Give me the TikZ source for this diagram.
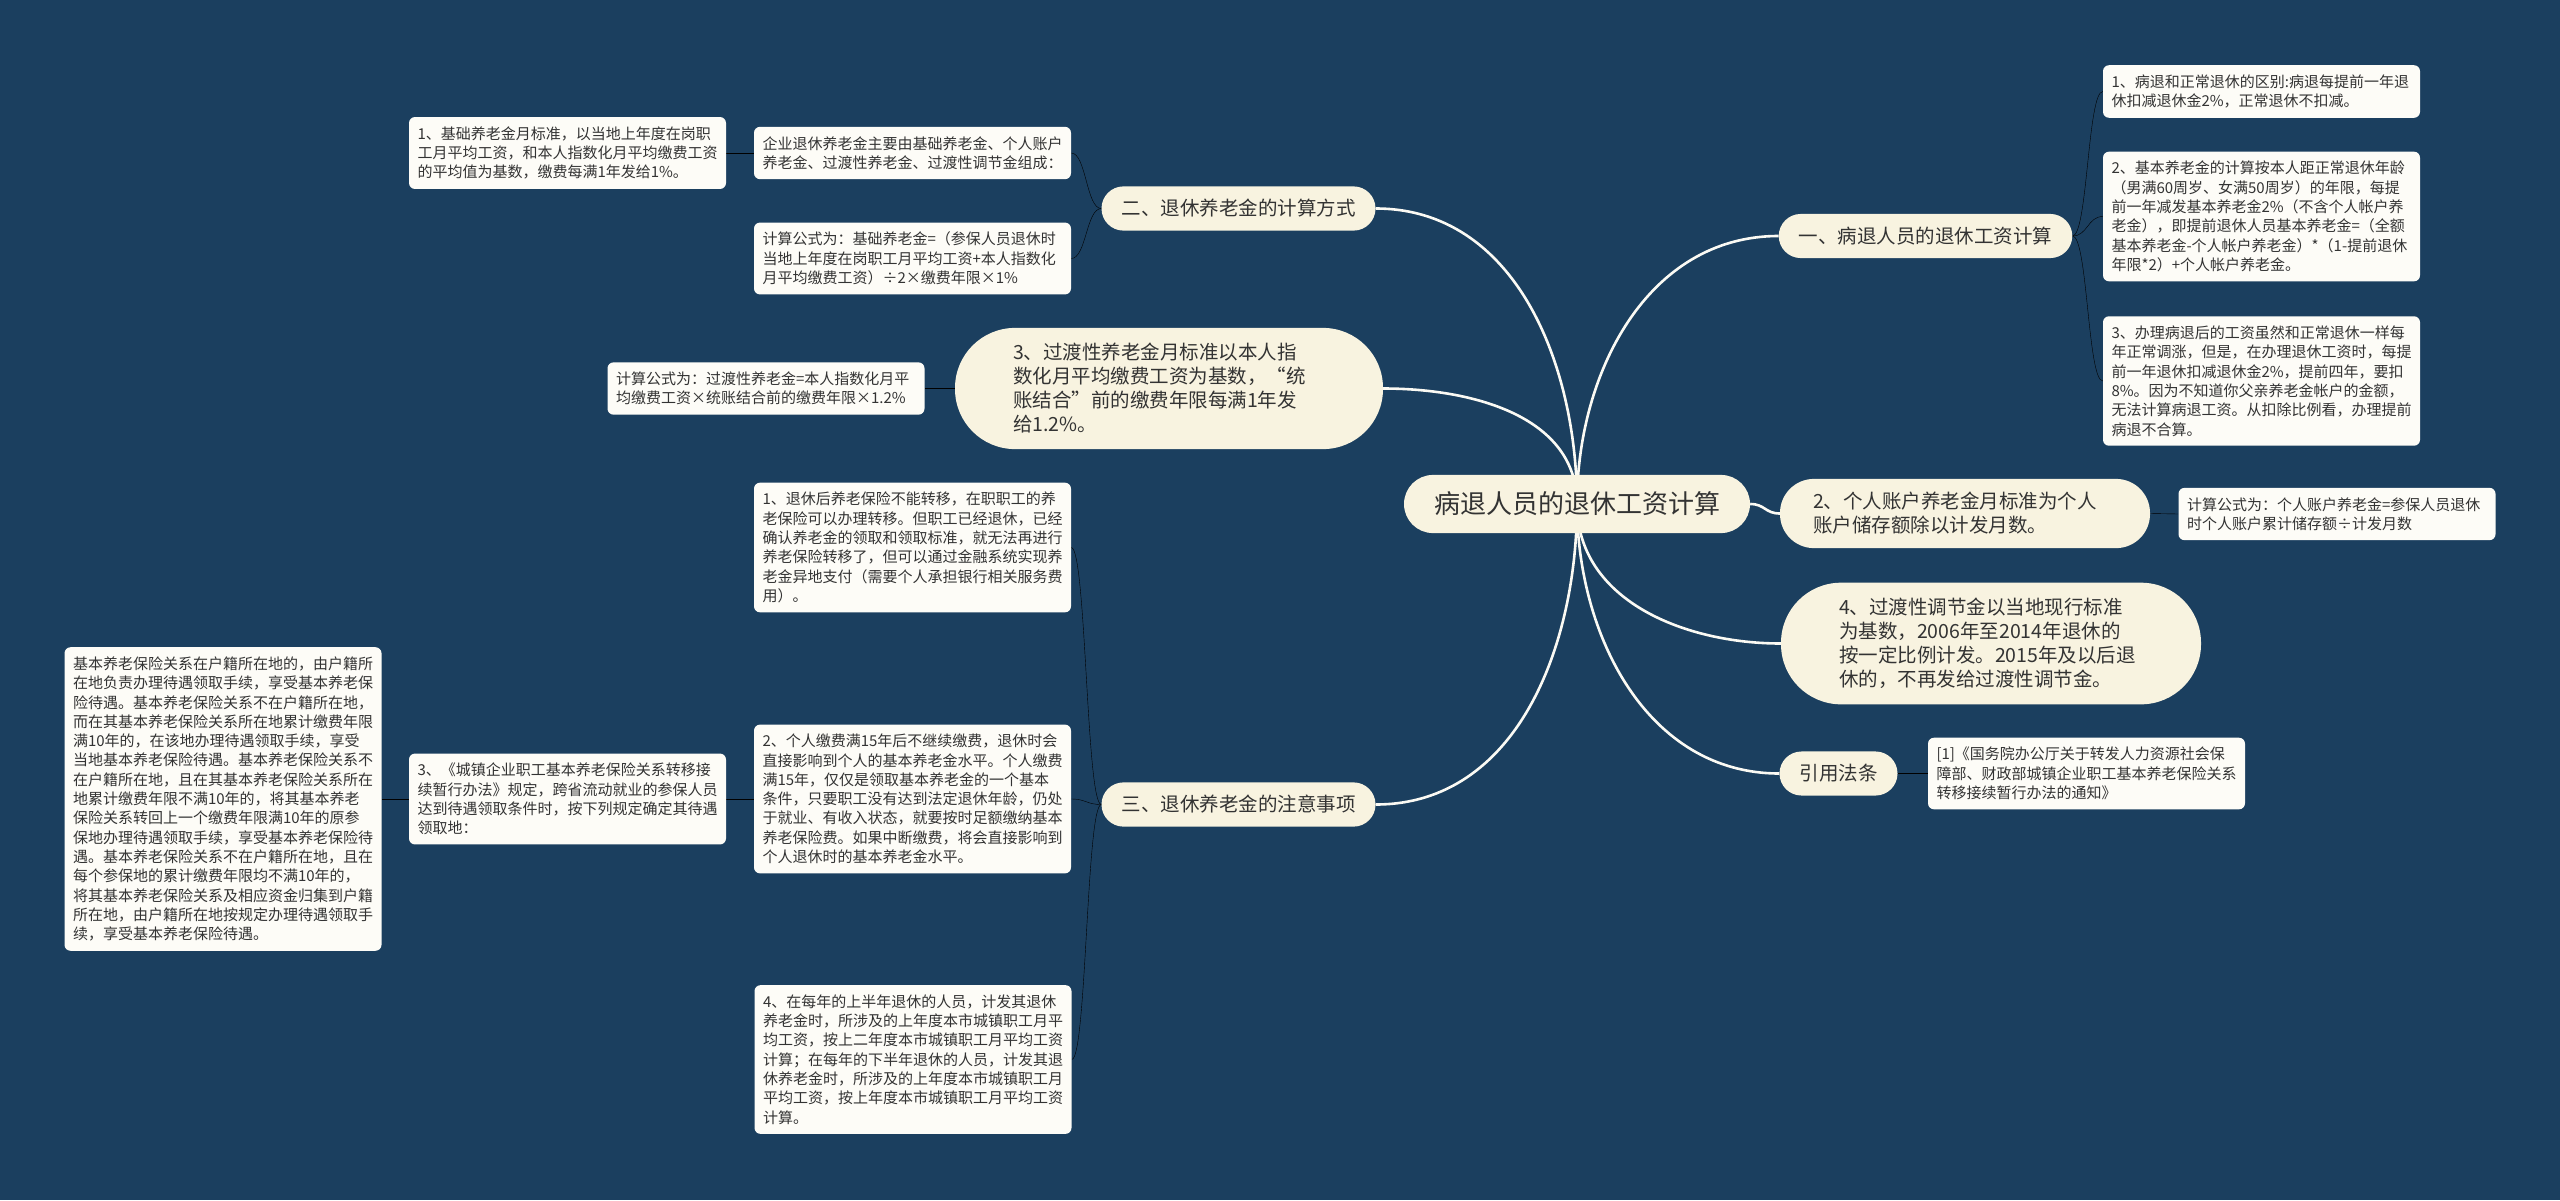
\documentclass[tikz,border=0pt]{standalone}
\usepackage{fontspec}
\setmainfont{Noto Sans CJK SC}
\usetikzlibrary{calc,backgrounds}
\definecolor{bgblue}{HTML}{1B3F5F}
\definecolor{branchfill}{HTML}{F8F3E0}
\definecolor{leaffill}{HTML}{FDFCF7}
\definecolor{textcol}{HTML}{333333}
\definecolor{linecol}{HTML}{FBFAF4}
\begin{document}
\begin{tikzpicture}[x=1pt,y=-1pt,
  root/.style={fill=branchfill, text=textcol, font=\fontsize{26}{30}\selectfont,
    inner xsep=30pt, inner ysep=17pt, rounded corners=29pt},
  branch/.style={fill=branchfill, text=textcol, font=\fontsize{19.5}{24}\selectfont,
    inner xsep=20pt, inner ysep=13pt, rounded corners=22pt},
  midbranch/.style={branch, text width=304pt, align=left,
    inner xsep=33pt, inner ysep=13.5pt, rounded corners=34pt},
  bigbranch/.style={branch, text width=304pt, align=left,
    inner xsep=58pt, inner ysep=15.5pt, rounded corners=60pt},
  leaf/.style={fill=leaffill, text=textcol, font=\fontsize{15}{19.3}\selectfont,
    text width=300pt, align=left, inner xsep=8.5pt, inner ysep=9.5pt, rounded corners=6pt},
  trunk/.style={draw=linecol, line width=2.6pt},
  twig/.style={draw=linecol, line width=2pt},
  brace/.style={twig, to path={.. controls ($(\tikztostart)!0.5!(\tikztotarget|-\tikztostart)$)
    and ($(\tikztotarget)!0.5!(\tikztostart|-\tikztotarget)$) .. (\tikztotarget)}}]
\useasboundingbox (0,0) rectangle (2560,1200);

% 中心主题
\node[root] (root) at (1577,504) {病退人员的退休工资计算};

% 右侧：一、病退人员的退休工资计算
\node[branch] (R1) at (1925.5,236) {一、病退人员的退休工资计算};
\node[leaf] (R1a) at (2261.5,91.5) {1、病退和正常退休的区别:病退每提前一年退\\休扣减退休金2\%，正常退休不扣减。};
\node[leaf] (R1b) at (2261.5,216.5) {2、基本养老金的计算按本人距正常退休年龄\\（男满60周岁、女满50周岁）的年限，每提\\前一年减发基本养老金2\%（不含个人帐户养\\老金），即提前退休人员基本养老金=（全额\\基本养老金-个人帐户养老金）*（1-提前退休\\年限*2）+个人帐户养老金。};
\node[leaf] (R1c) at (2261.5,381) {3、办理病退后的工资虽然和正常退休一样每\\年正常调涨，但是，在办理退休工资时，每提\\前一年退休扣减退休金2\%，提前四年，要扣\\8\%。因为不知道你父亲养老金帐户的金额，\\无法计算病退工资。从扣除比例看，办理提前\\病退不合算。};

% 右侧：个人账户养老金
\node[midbranch] (R2) at (1965,513.5) {2、个人账户养老金月标准为个人\\账户储存额除以计发月数。};
\node[leaf] (R2a) at (2337,514) {计算公式为：个人账户养老金=参保人员退休\\时个人账户累计储存额÷计发月数};

% 右侧：过渡性调节金
\node[bigbranch] (R4) at (1991,643.5) {4、过渡性调节金以当地现行标准\\为基数，2006年至2014年退休的\\按一定比例计发。2015年及以后退\\休的，不再发给过渡性调节金。};

% 右侧：引用法条
\node[branch] (ref) at (1838.5,773.5) {引用法条};
\node[leaf] (refa) at (2086.5,773.5) {[1]《国务院办公厅关于转发人力资源社会保\\障部、财政部城镇企业职工基本养老保险关系\\转移接续暂行办法的通知》};

% 左侧：二、退休养老金的计算方式
\node[branch] (L2) at (1238.5,208.5) {二、退休养老金的计算方式};
\node[leaf] (L2a) at (912.5,153) {企业退休养老金主要由基础养老金、个人账户\\养老金、过渡性养老金、过渡性调节金组成：};
\node[leaf] (L2aa) at (567.5,153) {1、基础养老金月标准，以当地上年度在岗职\\工月平均工资，和本人指数化月平均缴费工资\\的平均值为基数，缴费每满1年发给1\%。};
\node[leaf] (L2b) at (912.5,258.5) {计算公式为：基础养老金=（参保人员退休时\\当地上年度在岗职工月平均工资+本人指数化\\月平均缴费工资）÷2×缴费年限×1\%};

% 左侧：过渡性养老金
\node[bigbranch, inner xsep=58pt, text width=312pt] (L3) at (1169,388.5) {3、过渡性养老金月标准以本人指\\数化月平均缴费工资为基数，“统\\账结合”前的缴费年限每满1年发\\给1.2\%。};
\node[leaf] (L3a) at (766,388.5) {计算公式为：过渡性养老金=本人指数化月平\\均缴费工资×统账结合前的缴费年限×1.2\%};

% 左侧：三、退休养老金的注意事项
\node[branch] (L4) at (1238.5,804.5) {三、退休养老金的注意事项};
\node[leaf] (L4a) at (912.5,547.5) {1、退休后养老保险不能转移，在职职工的养\\老保险可以办理转移。但职工已经退休，已经\\确认养老金的领取和领取标准，就无法再进行\\养老保险转移了，但可以通过金融系统实现养\\老金异地支付（需要个人承担银行相关服务费\\用）。};
\node[leaf] (L4b) at (912.5,799) {2、个人缴费满15年后不继续缴费，退休时会\\直接影响到个人的基本养老金水平。个人缴费\\满15年，仅仅是领取基本养老金的一个基本\\条件，只要职工没有达到法定退休年龄，仍处\\于就业、有收入状态，就要按时足额缴纳基本\\养老保险费。如果中断缴费，将会直接影响到\\个人退休时的基本养老金水平。};
\node[leaf] (L4ba) at (567.5,799) {3、《城镇企业职工基本养老保险关系转移接\\续暂行办法》规定，跨省流动就业的参保人员\\达到待遇领取条件时，按下列规定确定其待遇\\领取地：};
\node[leaf] (L4baa) at (223,799) {基本养老保险关系在户籍所在地的，由户籍所\\在地负责办理待遇领取手续，享受基本养老保\\险待遇。基本养老保险关系不在户籍所在地，\\而在其基本养老保险关系所在地累计缴费年限\\满10年的，在该地办理待遇领取手续，享受\\当地基本养老保险待遇。基本养老保险关系不\\在户籍所在地，且在其基本养老保险关系所在\\地累计缴费年限不满10年的，将其基本养老\\保险关系转回上一个缴费年限满10年的原参\\保地办理待遇领取手续，享受基本养老保险待\\遇。基本养老保险关系不在户籍所在地，且在\\每个参保地的累计缴费年限均不满10年的，\\将其基本养老保险关系及相应资金归集到户籍\\所在地，由户籍所在地按规定办理待遇领取手\\续，享受基本养老保险待遇。};
\node[leaf] (L4c) at (913,1059.5) {4、在每年的上半年退休的人员，计发其退休\\养老金时，所涉及的上年度本市城镇职工月平\\均工资，按上二年度本市城镇职工月平均工资\\计算；在每年的下半年退休的人员，计发其退\\休养老金时，所涉及的上年度本市城镇职工月\\平均工资，按上年度本市城镇职工月平均工资\\计算。};

\begin{scope}[on background layer]
  % 背景
  \fill[bgblue] (0,0) rectangle (2560,1200);
  % 中心到各分支
  \draw[trunk] (root.center) to[out=90,in=180] (R1.west);
  \draw[trunk] (root.east) to[brace] (R2.west);
  \draw[trunk] (root.center) to[out=-90,in=180] (R4.west);
  \draw[trunk] (root.center) to[out=-90,in=180] (ref.west);
  \draw[trunk] (root.center) to[out=90,in=0] (L2.east);
  \draw[trunk] (root.center) to[out=90,in=0] (L3.east);
  \draw[trunk] (root.center) to[out=-90,in=0] (L4.east);
  % 分支到叶子
  \foreach \leafname in {R1a,R1b,R1c}
    \draw (R1.east) to[brace] (\leafname.west);
  \draw (R2.east) to[brace] (R2a.west);
  \draw (ref.east) to[brace] (refa.west);
  \foreach \leafname in {L2a,L2b}
    \draw (L2.west) to[brace] (\leafname.east);
  \draw (L2a.west) to[brace] (L2aa.east);
  \draw (L3.west) to[brace] (L3a.east);
  \foreach \leafname in {L4a,L4b,L4c}
    \draw (L4.west) to[brace] (\leafname.east);
  \draw (L4b.west) to[brace] (L4ba.east);
  \draw (L4ba.west) to[brace] (L4baa.east);
\end{scope}
\end{tikzpicture}
\end{document}
